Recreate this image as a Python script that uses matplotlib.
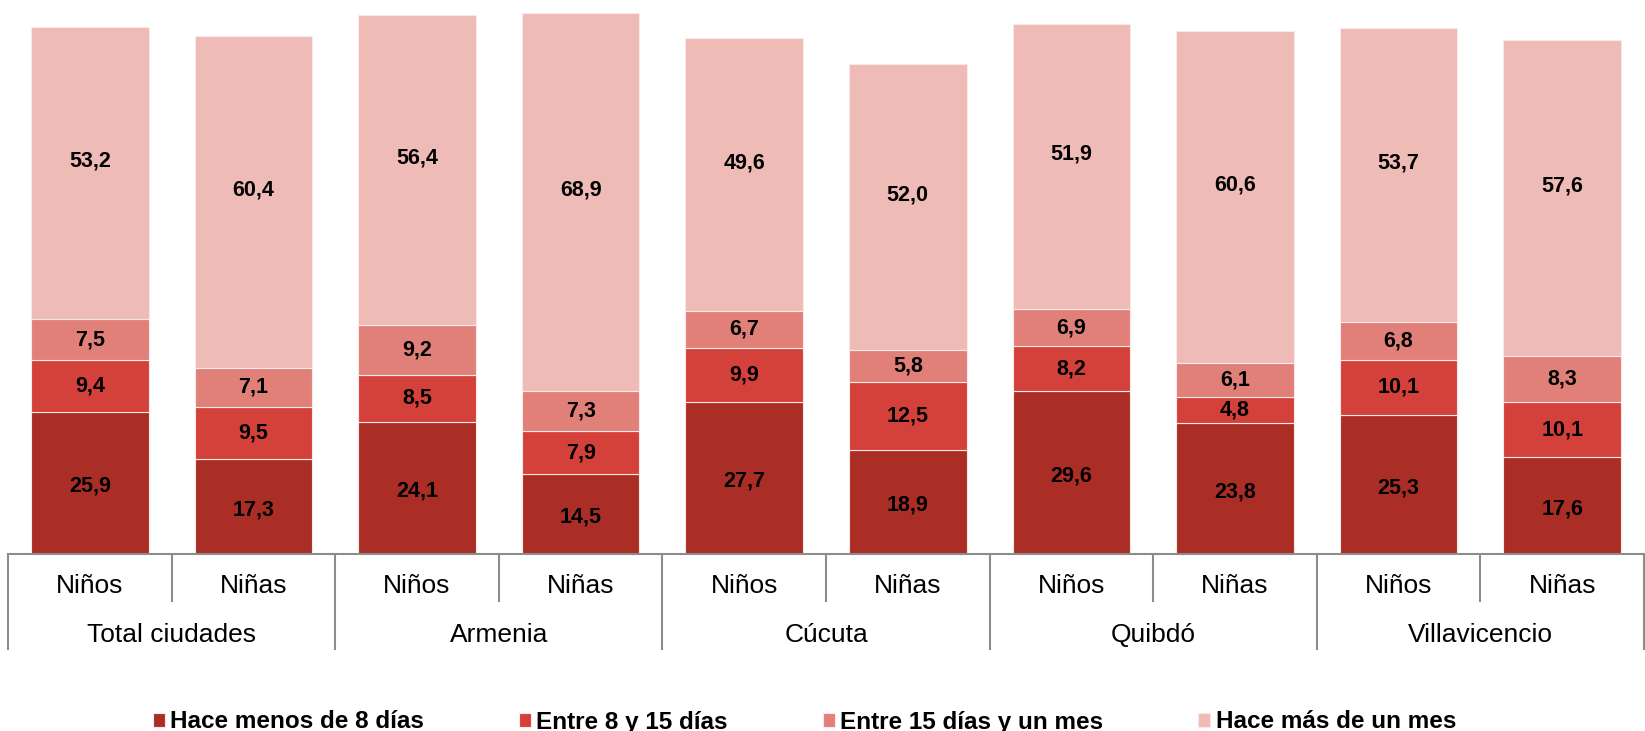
import numpy as np
import matplotlib
matplotlib.use('Agg')
import matplotlib.pyplot as plt

plt.rcParams['font.family'] = ['Liberation Sans', 'DejaVu Sans']

# data
groups = ['Total ciudades', 'Armenia', 'Cúcuta', 'Quibdó', 'Villavicencio']
sexes = ['Niños', 'Niñas']
series = ['Hace menos de 8 días', 'Entre 8 y 15 días', 'Entre 15 días y un mes', 'Hace más de un mes']
menos_8 = [25.9, 17.3, 24.1, 14.5, 27.7, 18.9, 29.6, 23.8, 25.3, 17.6]
entre_8_15 = [9.4, 9.5, 8.5, 7.9, 9.9, 12.5, 8.2, 4.8, 10.1, 10.1]
entre_15_mes = [7.5, 7.1, 9.2, 7.3, 6.7, 5.8, 6.9, 6.1, 6.8, 8.3]
mas_mes = [53.2, 60.4, 56.4, 68.9, 49.6, 52.0, 51.9, 60.6, 53.7, 57.6]

colors = ['#AA2E26', '#D4413A', '#E17F79', '#EFBBB7']

fig = plt.figure(figsize=(16.45, 7.31), dpi=100)
ax = fig.add_axes([8 / 1645, 177 / 731, 1636 / 1645, 549 / 731])

x = np.arange(len(menos_8))
bottom = np.zeros(len(x))
vals = [menos_8, entre_8_15, entre_15_mes, mas_mes]
handles = []
for k, (v, c, name) in enumerate(zip(vals, colors, series)):
    v = np.array(v)
    b = ax.bar(x, v, 0.72, bottom=bottom, color=c, edgecolor='#FBE9E7', linewidth=0.8, label=name)
    handles.append(b)
    for xi, bi, vi in zip(x, bottom, v):
        y = bi + vi / 2
        if k == 3:
            y += 2.2
        elif k == 0:
            y -= 0.6
        ax.text(xi, y, f'{vi:.1f}'.replace('.', ','), ha='center', va='center',
                fontsize=15.5, fontweight='bold', color='black')
    bottom += v

ax.set_xlim(-0.5, 9.5)
ax.set_ylim(0, 100)
ax.set_yticks([])
for s in ['top', 'right', 'left']:
    ax.spines[s].set_visible(False)
ax.spines['bottom'].set_color('#8C8C8C')
ax.spines['bottom'].set_linewidth(1.5)

# inner labels (Niños / Niñas)
ax.set_xticks(x, sexes * len(groups), fontsize=19)
ax.tick_params(axis='x', which='major', length=0, pad=14.5)
ax.set_xticks(np.arange(0.5, 10, 2), minor=True)
ax.tick_params(axis='x', which='minor', length=34.5, width=1.5, color='#8C8C8C', direction='out')

# outer labels (cities)
sec = ax.secondary_xaxis('bottom')
sec.spines['bottom'].set_visible(False)
sec.set_xticks(np.arange(-0.5, 10, 2))
sec.set_xticklabels([])
sec.tick_params(axis='x', which='major', length=69, width=1.5, color='#8C8C8C', direction='out')
sec.set_xticks(np.arange(0.5, 10, 2), groups, minor=True, fontsize=19)
sec.tick_params(axis='x', which='minor', length=0, pad=49.5)

fig.legend(handles=handles, loc='center', bbox_to_anchor=(0.489, 1 - 722 / 731), ncol=4,
           frameon=False, prop={'weight': 'bold', 'size': 17.5},
           handlelength=0.5, handleheight=0.55, handletextpad=0.22, columnspacing=3.9)

fig.savefig('out.png', dpi=100)
